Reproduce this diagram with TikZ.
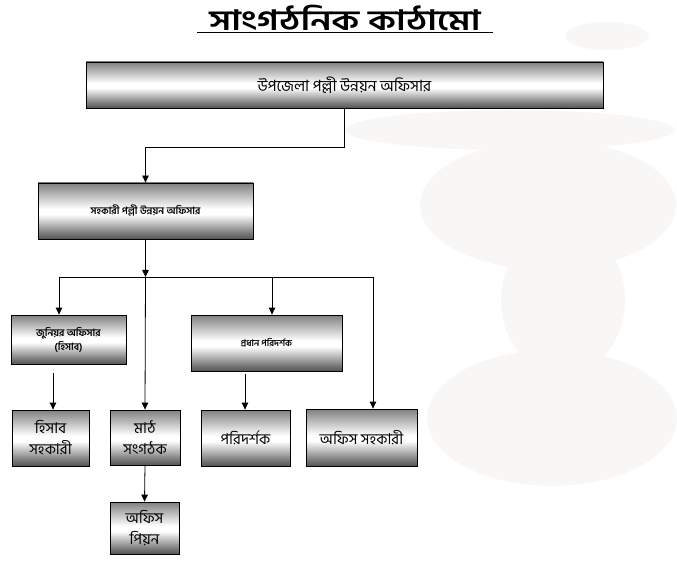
\documentclass[tikz,border=0pt]{standalone}
\usepackage{fontspec}
\newfontfamily\bn[Script=Bengali]{Hind Siliguri}
\newfontfamily\bntitle[Script=Bengali,FakeStretch=1.3]{Hind Siliguri}
\usetikzlibrary{arrows.meta}
\definecolor{mbot}{HTML}{555555}
\definecolor{mtop}{HTML}{808080}
\definecolor{wm}{HTML}{F9F6F6}
\pgfdeclareverticalshading{metalbox}{100bp}{color(0bp)=(mbot); color(25bp)=(mbot); color(30bp)=(mbot!80!white); color(47bp)=(white); color(52bp)=(white); color(75bp)=(mtop); color(100bp)=(mtop)}
\tikzset{
  box/.style={draw=black, line width=0.8pt, shading=metalbox, inner sep=0pt, align=center, font=\bn},
  arr/.style={draw=black, line width=0.8pt, -{Triangle[length=7pt,width=6.5pt]}},
  ln/.style={draw=black, line width=0.8pt},
  wmark/.style={fill=wm, draw=none}
}
\begin{document}
\begin{tikzpicture}[x=1pt,y=-1pt]
\useasboundingbox (0,0) rectangle (677,561);
% faint watermark in background
\fill[wmark] (607,36) ellipse (42 and 14);
\fill[wmark] (510,130) ellipse (165 and 20);
\fill[wmark] (548,205) ellipse (128 and 65);
\fill[wmark] (563,300) ellipse (62 and 75);
\fill[wmark] (552,418) ellipse (125 and 68);
% title
\node[font={\bntitle\bfseries\fontsize{28}{30}\selectfont}, inner sep=0pt] (title) at (345,18) {সাংগঠনিক কাঠামো};
\draw[ln] (197,32) -- (493,32);
% boxes
\node[box, minimum width=517pt, minimum height=46pt, font={\bn\fontsize{15.5}{17}\selectfont}] (b1) at (344.5,85) {উপজেলা পল্লী উন্নয়ন অফিসার};
\node[box, minimum width=215pt, minimum height=56pt, font={\bn\bfseries\fontsize{10}{12}\selectfont}] (b2) at (145.5,211) {সহকারী পল্লী উন্নয়ন অফিসার};
\node[box, minimum width=115pt, minimum height=49pt, font={\bn\bfseries\fontsize{10}{14}\selectfont}] (j) at (68.5,339.5) {জুনিয়র অফিসার\\(হিসাব)};
\node[box, minimum width=151pt, minimum height=56pt, font={\bn\bfseries\fontsize{9}{11}\selectfont}] (p) at (266.5,343) {প্রধান পরিদর্শক};
\node[box, minimum width=77pt, minimum height=56pt, font={\bn\fontsize{15}{21}\selectfont}] (h) at (50.5,438) {হিসাব\\সহকারী};
\node[box, minimum width=70pt, minimum height=55pt, font={\bn\fontsize{15}{21}\selectfont}] (m) at (145,437.5) {মাঠ\\সংগঠক};
\node[box, minimum width=89pt, minimum height=56pt, font={\bn\fontsize{15}{21}\selectfont}] (pa) at (245.5,438) {পরিদর্শক};
\node[box, minimum width=111pt, minimum height=57pt, font={\bn\fontsize{15}{21}\selectfont}] (os) at (361.5,437.5) {অফিস সহকারী};
\node[box, minimum width=69pt, minimum height=52pt, font={\bn\fontsize{15}{21}\selectfont}] (op) at (144.5,528) {অফিস\\পিয়ন};
% connectors
\coordinate (bus) at (145.5,277);
\coordinate (busL) at (59,277);
\coordinate (busP) at (272,277);
\coordinate (busR) at (373,277);
\coordinate (js) at (53,373);
\coordinate (ps) at (245,374);
\draw[arr] (b1.south) -- ++(0,39) -| (b2.north);
\draw[arr] (b2.south) -- (bus);
\draw[ln] (busL) -- (busR);
\draw[arr] (busL) -- (busL |- j.north);
\draw[arr] (bus) -- (m.north);
\draw[arr] (busP) -- (busP |- p.north);
\draw[arr] (busR) -- (busR |- os.north);
\draw[arr] (js) -- (js |- h.north);
\draw[arr] (ps) -- (ps |- pa.north);
\draw[arr] (m.south) -- (op.north);
\end{tikzpicture}
\end{document}
